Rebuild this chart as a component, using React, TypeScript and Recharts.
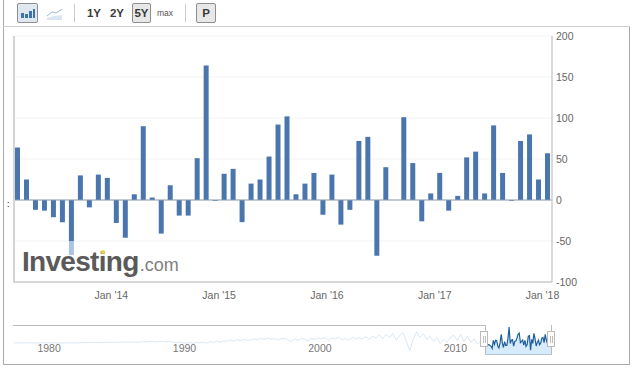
import React from 'react';
import {
  Area,
  Bar,
  CartesianGrid,
  ComposedChart,
  Line,
  ReferenceLine,
  XAxis,
  YAxis,
} from 'recharts';

const months = [
  "Feb '13", "Mar '13", "Apr '13", "May '13", "Jun '13", "Jul '13", "Aug '13", "Sep '13", "Oct '13", "Nov '13", "Dec '13",
  "Jan '14", "Feb '14", "Mar '14", "Apr '14", "May '14", "Jun '14", "Jul '14", "Aug '14", "Sep '14", "Oct '14", "Nov '14", "Dec '14",
  "Jan '15", "Feb '15", "Mar '15", "Apr '15", "May '15", "Jun '15", "Jul '15", "Aug '15", "Sep '15", "Oct '15", "Nov '15", "Dec '15",
  "Jan '16", "Feb '16", "Mar '16", "Apr '16", "May '16", "Jun '16", "Jul '16", "Aug '16", "Sep '16", "Oct '16", "Nov '16", "Dec '16",
  "Jan '17", "Feb '17", "Mar '17", "Apr '17", "May '17", "Jun '17", "Jul '17", "Aug '17", "Sep '17", "Oct '17", "Nov '17", "Dec '17",
  "Jan '18",
];

const values = [
  64, 25, -12, -13, -21, -27, -50, 30, -9, 31,
  27, -28, -46, 7, 90, 3, -41, 18, -19, -19,
  51, 164, -1, 32, 38, -27, 20, 25, 53, 92,
  102, 7, 20, 33, -18, 31, -30, -12, 72, 77,
  -68, 40, 0, 101, 45, -26, 8, 33, -13, 5,
  52, 59, 8, 91, 33, -1, 72, 80, 25, 57,
];

// the faded tail under the Investing logo
const fadedBar = { month: "Aug '13", value: -17 };

const monthTicks = ["Jan '14", "Jan '15", "Jan '16", "Jan '17", "Jan '18"];
const valueTicks = [-100, -50, 0, 50, 100, 150, 200];
const navTicks = [1980, 1990, 2000, 2010];

// quarterly history for the navigator, starting 1978.25
const history = [
  5, 6, 5, 6, 5, 6, 5,
  4, 5, 6, 5,
  5, 6, 5, 4,
  4, 5, 6, 5,
  6, 8, 7, 9,
  10, 8, 11, 9,
  10, 13, 9, 12,
  14, 10, 15, 12,
  16, 11, 14, 18,
  13, 17, 20, 14,
  18, 22, 15, 19,
  12, 8, 14, 6,
  2, 9, -2, 10,
  4, 14, 3, 18,
  10, 22, 12, 26,
  20, 32, 24, 38,
  26, 42, 30, 34,
  44, 36, 50, 40,
  54, 42, 48, 38,
  46, 52, 34, 18,
  46, 30, 52, 38,
  28, 52, 40, 56,
  46, 58, 32, 54,
  48, 62, 36, 50,
  34, 60, 46, 54,
  44, 66, 40, 74,
  52, 84, 48, 92,
  56, 100, 34, 78,
  110, 20, -72, 40,
  118, 60, 96, 42,
  70, 20, 58, -2,
  40, 10, 60, 84,
  30, 90, 20, 70,
  10, 45, -10, 25,
];

const barData = months.map((month, i) => ({
  month,
  value: values[i],
  faded: month === fadedBar.month ? fadedBar.value : 0,
}));

const navData = [
  ...history.map((v, i) => ({ year: 1978.25 + i * 0.25, past: v })),
  ...values.map((v, i) => ({ year: 2013 + (i + 1) / 12, recent: v })),
];

const FONT = '"Liberation Sans", Arial, sans-serif';
const GREY = '#666';

const box = (left: number, top: number, width: number, height: number, background: string): React.CSSProperties => ({
  position: 'absolute',
  left,
  top,
  width,
  height,
  background,
});

const toolText = (center: number, size: number, color: string): React.CSSProperties => ({
  position: 'absolute',
  left: center - 15,
  width: 30,
  top: 6,
  textAlign: 'center',
  fontSize: size,
  lineHeight: '14px',
  fontWeight: 700,
  color,
});

const Pressed = ({ left, width, bg }: { left: number; width: number; bg: string }) => (
  <div
    style={{
      position: 'absolute',
      left,
      top: 3,
      width,
      height: 20,
      boxSizing: 'border-box',
      border: '1px solid #8f8f8f',
      borderRadius: 2,
      background: bg,
    }}
  />
);

const Handle = ({ left }: { left: number }) => (
  <div
    style={{
      position: 'absolute',
      left,
      top: 331,
      width: 8,
      height: 16,
      boxSizing: 'border-box',
      border: '1px solid #bbb',
      background: '#fff',
    }}
  >
    <div style={box(2, 4, 1, 7, '#bbb')} />
    <div style={box(4, 4, 1, 7, '#bbb')} />
  </div>
);

const NavTick = ({ x, y, payload }: any) => (
  <text x={x} y={y - 4} fill="#777" fontSize={10.5} fontFamily={FONT} textAnchor="start">
    {payload.value}
  </text>
);

const App = () => {
  return (
    <div
      style={{
        position: 'absolute',
        left: 0,
        top: 0,
        width: 640,
        height: 377,
        background: '#fff',
        overflow: 'hidden',
        fontFamily: FONT,
      }}
    >
      {/* outer frame */}
      <div style={box(3, 0, 1, 365, '#aaa')} />
      <div style={box(629, 26, 1, 339, '#aaa')} />
      <div style={box(3, 364, 627, 1, '#aaa')} />
      <div style={box(3, 26, 627, 1, '#ccc')} />

      {/* toolbar */}
      <Pressed left={17} width={21} bg="#dfe8f1" />
      <svg style={{ position: 'absolute', left: 0, top: 0 }} width={80} height={26}>
        <rect x={21} y={13} width={3} height={5} fill="#3f73a8" />
        <rect x={25} y={14} width={3} height={4} fill="#3f73a8" />
        <rect x={29} y={11} width={3} height={7} fill="#3f73a8" />
        <rect x={33} y={9} width={2} height={9} fill="#3f73a8" />
        <path d="M47 16 L52 12 L56 13 L62 9" fill="none" stroke="#9dbbd8" strokeWidth={1} />
        <path d="M47 18 L54 16 L62 15 L62 20 L47 20 Z" fill="#dbe6f1" />
      </svg>
      <div style={box(74, 4, 1, 18, '#ccc')} />
      <div style={toolText(94, 11.5, '#3a3a3a')}>1Y</div>
      <div style={toolText(117, 11.5, '#3a3a3a')}>2Y</div>
      <Pressed left={132} width={19} bg="#e8e8e8" />
      <div style={toolText(141.5, 11.5, '#3a3a3a')}>5Y</div>
      <div style={{ ...toolText(165, 8.5, '#555'), fontWeight: 400 }}>max</div>
      <div style={box(185, 4, 1, 18, '#ccc')} />
      <Pressed left={196} width={20} bg="#e8e8e8" />
      <div style={toolText(206, 11.5, '#3a3a3a')}>P</div>

      <div style={{ position: 'absolute', left: 7, top: 198, fontSize: 9, lineHeight: '12px', color: '#000' }}>:</div>

      {/* main chart */}
      <div style={{ position: 'absolute', left: 0, top: 0 }}>
        <ComposedChart
          width={640}
          height={310}
          data={barData}
          stackOffset="sign"
          margin={{ top: 36, right: 48, left: 13, bottom: 8 }}
        >
          <CartesianGrid vertical={false} stroke="#f3f3f3" />
          <XAxis
            dataKey="month"
            ticks={monthTicks}
            interval={0}
            tickLine={false}
            tickSize={0}
            tickMargin={10}
            axisLine={{ stroke: '#ccc', strokeWidth: 1.5 }}
            tick={{ fill: GREY, fontSize: 10.5, fontFamily: FONT, dx: -5 }}
            height={20}
          />
          <YAxis
            orientation="right"
            domain={[-100, 200]}
            ticks={valueTicks}
            interval={0}
            tickLine={false}
            tickSize={0}
            tickMargin={4}
            axisLine={{ stroke: '#ccc', strokeWidth: 1.5 }}
            tick={{ fill: GREY, fontSize: 10.5, fontFamily: FONT }}
            width={40}
          />
          <ReferenceLine y={0} stroke="#8b9bad" />
          <Bar dataKey="value" stackId="a" fill="#4a76ad" barSize={5} isAnimationActive={false} />
          <Bar dataKey="faded" stackId="a" fill="#a9c4e4" barSize={5} isAnimationActive={false} />
        </ComposedChart>
      </div>
      <div style={box(13, 36, 2, 246, '#d4d4d4')} />

      {/* logo */}
      <div
        style={{
          position: 'absolute',
          left: 22,
          top: 246,
          fontSize: 28,
          lineHeight: '32px',
          fontWeight: 700,
          letterSpacing: -0.7,
          color: '#5a5a5a',
          whiteSpace: 'nowrap',
        }}
      >
        Investing
        <span style={{ fontSize: 18, fontWeight: 400, letterSpacing: 0, color: '#808080', marginLeft: 1 }}>.com</span>
      </div>
      <div style={{ ...box(101, 250, 4, 4, '#f2d24b'), borderRadius: 2 }} />

      {/* navigator */}
      <div style={{ position: 'absolute', left: 0, top: 0 }}>
        <ComposedChart
          width={640}
          height={377}
          data={navData}
          margin={{ top: 325, right: 88, left: 13, bottom: 3 }}
        >
          <XAxis
            type="number"
            dataKey="year"
            domain={[1978.2, 2018]}
            ticks={navTicks}
            interval={0}
            tickLine={false}
            tickSize={0}
            axisLine={false}
            tick={<NavTick />}
            height={20}
          />
          <YAxis hide domain={[-106, 184]} />
          <Line dataKey="past" stroke="#dbe8f4" strokeWidth={1} dot={false} connectNulls isAnimationActive={false} />
          <Area
            dataKey="recent"
            baseValue={-106}
            stroke="#1f5f9e"
            strokeWidth={1.2}
            fill="#d6ebfb"
            fillOpacity={1}
            connectNulls
            isAnimationActive={false}
          />
        </ComposedChart>
      </div>
      <div style={box(13, 325, 472, 1, '#bbb')} />
      <div style={box(485, 325, 1, 30, '#bbb')} />
      <div style={box(485, 354, 67, 1, '#b4c6d6')} />
      <div style={box(551, 325, 1, 30, '#bbb')} />
      <Handle left={480} />
      <Handle left={547} />
    </div>
  );
};

export default App;
